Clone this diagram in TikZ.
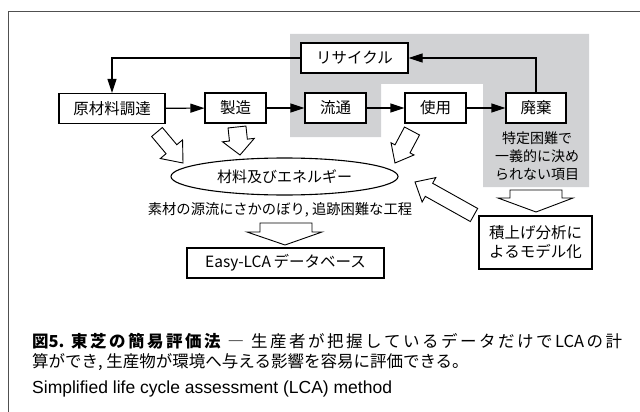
\documentclass[tikz,border=0pt]{standalone}
\usepackage{fontspec}
\setmainfont{Noto Sans CJK JP}
\newfontfamily\jp{Noto Sans CJK JP}
\newfontfamily\en{Liberation Sans}
\usetikzlibrary{arrows.meta,calc,shapes.geometric}
\definecolor{graybg}{RGB}{209,210,212}
\definecolor{framec}{RGB}{80,80,80}
\def\spr#1{\ifx#1\relax\else#1\hskip 0pt plus 1fil\relax\expandafter\spr\fi}
\newcommand\hollowarrow[5]{%
  \coordinate (haH) at ($(#2)!#5!(#1)$);
  \draw[blockarrow] ($(#1)!#3!90:(#2)$) -- ($(haH)!#3!90:(#2)$) -- ($(haH)!#4!90:(#2)$)
     -- (#2) -- ($(haH)!#4!-90:(#2)$) -- ($(haH)!#3!-90:(#2)$) -- ($(#1)!#3!-90:(#2)$) -- cycle;}
\begin{document}
\begin{tikzpicture}[x=1pt,y=-1pt,
  box/.style={draw, line width=1.1pt, inner sep=0, minimum height=30pt, font=\jp\fontsize{15.5}{18}\selectfont},
  flow/.style={line width=1.1pt, -{Triangle[length=14pt,width=9pt]}},
  blockarrow/.style={draw, line width=0.9pt, fill=white, line join=miter},
  plain/.style={inner sep=0, font=\jp\fontsize{14.3}{18}\selectfont},
  captext/.style={anchor=west, inner sep=0, font=\jp\fontsize{16.5}{20}\selectfont}]
\useasboundingbox (0,0) rectangle (640,412);
% gray region
\fill[graybg] (290,34) -- (589,34) -- (589,187) -- (483,187) -- (483,84) -- (381,84) -- (381,137) -- (290,137) -- cycle;
% frame
\draw[framec, line width=1pt] (8,412) -- (8,12) -- (640,12);
% boxes
\node[box, fill=white, minimum width=106pt] (raw) at (112,108.5) {原材料調達};
\node[box, fill=white, minimum width=61pt] (mfg) at (235.5,108) {製造};
\node[box, fill=white, minimum width=61pt] (dist) at (335.5,108) {流通};
\node[box, fill=white, minimum width=61pt] (use) at (435.5,108) {使用};
\node[box, fill=white, minimum width=60pt] (disp) at (536,108) {廃棄};
\node[box, fill=white, minimum width=107pt] (rec) at (354.5,58) {リサイクル};
\node[box, fill=white, minimum width=197pt] (easy) at (285.5,263) {Easy-LCA\,データベース};
\node[box, fill=white, minimum width=113pt, minimum height=53pt, align=center, font=\jp\fontsize{15.5}{19}\selectfont] (model) at (535.5,242.5) {積上げ分析に\\よるモデル化};
\node[draw, ellipse, line width=1.1pt, minimum width=227pt, minimum height=37pt, inner sep=0, font=\jp\fontsize{15}{18}\selectfont] (mat) at (284.5,176.5) {材料及びエネルギー};
% texts
\node[plain] (trace) at (280,210) {素材の源流にさかのぼり, 追跡困難な工程};
\node[plain, align=center, font=\jp\fontsize{14}{18}\selectfont] (undet) at (537,156) {特定困難で\\一義的に決め\\られない項目};
% flow connectors
\draw[flow] (raw) -- (mfg);
\draw[flow] (mfg) -- (dist);
\draw[flow] (dist) -- (use);
\draw[flow] (use) -- (disp);
\draw[flow] (disp.north) |- (rec.east);
\draw[flow] (rec.west) -| (raw.north);
% hollow arrows
\coordinate (a1t) at (157,132); \coordinate (a1p) at (183,163);
\coordinate (a2t) at (237,127); \coordinate (a2p) at (240,155);
\coordinate (a3t) at (412,131); \coordinate (a3p) at (395,163);
\coordinate (a4t) at (474,215); \coordinate (a4p) at (415,182);
\hollowarrow{a1t}{a1p}{7pt}{14.5pt}{18pt}
\hollowarrow{a2t}{a2p}{9pt}{16pt}{15pt}
\hollowarrow{a3t}{a3p}{8.5pt}{13pt}{16pt}
\hollowarrow{a4t}{a4p}{7.5pt}{14pt}{16pt}
\draw[blockarrow] (260,223) -- (260,232) -- (247,232) -- (285,245) -- (322,232) -- (312,232) -- (312,223) -- cycle;
\draw[blockarrow] (510,190) -- (510,198) -- (498,198) -- (536,212) -- (573,198) -- (562,198) -- (562,190) -- cycle;
% caption
\node[captext] (cap1) at (32,341) {\hbox to 590pt{\bfseries 図5.\hskip 4pt plus 1fil\relax\spr 東芝の簡易評価法\relax\mdseries\hskip 2pt plus 1fil\relax\spr ―\relax\hskip 2pt plus 1fil\relax\spr 生産者が把握しているデータだけで\relax LCA\hskip 0pt plus 1fil\relax\spr の計\relax\unskip}};
\node[captext] (cap2) at (32,362) {算ができ, 生産物が環境へ与える影響を容易に評価できる。};
\node[anchor=west, inner sep=0, font=\en\fontsize{17.5}{20}\selectfont] (cap3) at (32,389) {Simplified life cycle assessment (LCA) method};
\end{tikzpicture}
\end{document}
